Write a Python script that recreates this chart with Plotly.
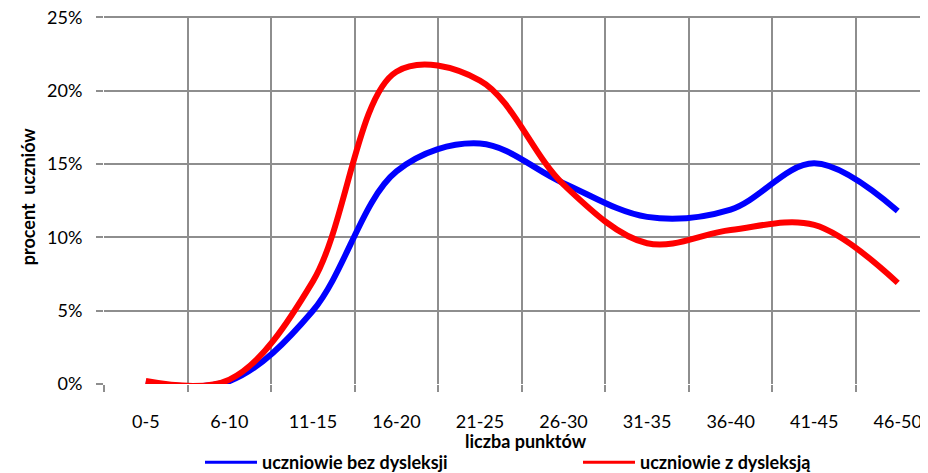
import plotly.graph_objects as go

categories = ["0-5", "6-10", "11-15", "16-20", "21-25", "26-30",
              "31-35", "36-40", "41-45", "46-50"]
bez_dysleksji = [0.1, 0.2, 5.0, 14.5, 16.4, 13.7, 11.4, 11.9, 15.05, 11.8]
z_dysleksja = [0.2, 0.3, 7.0, 21.3, 20.7, 13.6, 9.6, 10.5, 10.85, 6.9]
y_ticks = [0, 0.05, 0.10, 0.15, 0.20, 0.25]

FONT = "Lato, 'Open Sans', sans-serif"
GRID = "#8e8e8e"
BLUE = "#0000ff"
RED = "#ff0000"
PLOT_H = 368.5

fig = go.Figure()

fig.add_trace(go.Scatter(
    x=categories,
    y=[v / 100 for v in bez_dysleksji],
    mode="lines",
    showlegend=False,
    line=dict(color=BLUE, width=6, shape="spline", smoothing=1),
))

fig.add_trace(go.Scatter(
    x=categories,
    y=[v / 100 for v in z_dysleksja],
    mode="lines",
    showlegend=False,
    line=dict(color=RED, width=6, shape="spline", smoothing=1),
))

# legend entries with a thinner line sample, as in the original
fig.add_trace(go.Scatter(
    x=[None], y=[None], mode="lines",
    name="uczniowie bez dysleksji", legend="legend",
    line=dict(color=BLUE, width=3),
))
fig.add_trace(go.Scatter(
    x=[None], y=[None], mode="lines",
    name="uczniowie z dysleksją", legend="legend2",
    line=dict(color=RED, width=3),
))

fig.update_xaxes(
    type="category",
    range=[-0.5, 9.362],
    tickson="boundaries",
    ticks="outside",
    ticklen=7,
    tickcolor=GRID,
    tickwidth=2,
    showgrid=True,
    gridcolor=GRID,
    gridwidth=2,
    showline=False,
    zeroline=False,
    automargin=False,
    ticklabelstandoff=25,
    tickfont=dict(family=FONT, size=18, color="#000000"),
)

fig.update_yaxes(
    range=[0, 0.251],
    tickmode="array",
    tickvals=y_ticks,
    tickformat=".0%",
    ticks="outside",
    ticklen=7,
    tickcolor=GRID,
    tickwidth=2,
    showgrid=True,
    gridcolor=GRID,
    gridwidth=2,
    showline=False,
    zeroline=False,
    automargin=False,
    ticklabelstandoff=10,
    ticklabeloverflow="allow",
    tickfont=dict(family=FONT, size=18, color="#000000"),
)

fig.add_annotation(
    text="liczba punktów",
    xref="paper", yref="paper",
    x=(526 - 104) / 824, y=(384 - 441) / PLOT_H,
    xanchor="center", yanchor="middle",
    showarrow=False,
    font=dict(family=FONT, size=18, color="#000000", weight="bold"),
)

fig.add_annotation(
    text="procent  uczniów",
    xref="paper", yref="paper",
    x=(28 - 104) / 824, y=(384 - 196) / PLOT_H,
    xanchor="center", yanchor="middle",
    textangle=-90,
    showarrow=False,
    font=dict(family=FONT, size=18, color="#000000", weight="bold"),
)

legend_style = dict(
    orientation="h",
    xanchor="left",
    y=(384 - 462.7) / PLOT_H,
    yanchor="middle",
    itemwidth=52,
    font=dict(family=FONT, size=18, color="#000000", weight="bold"),
    bgcolor="rgba(0,0,0,0)",
)

# the page body adds an 8px offset, so the figure is 8px smaller
fig.update_layout(
    width=920,
    height=465,
    plot_bgcolor="#ffffff",
    paper_bgcolor="#ffffff",
    margin=dict(t=7.5, l=96, r=0, b=89, autoexpand=False),
    showlegend=True,
    legend=dict(x=(200 - 104) / 824, **legend_style),
    legend2=dict(x=(578 - 104) / 824, **legend_style),
)

fig.write_html("out.html")
